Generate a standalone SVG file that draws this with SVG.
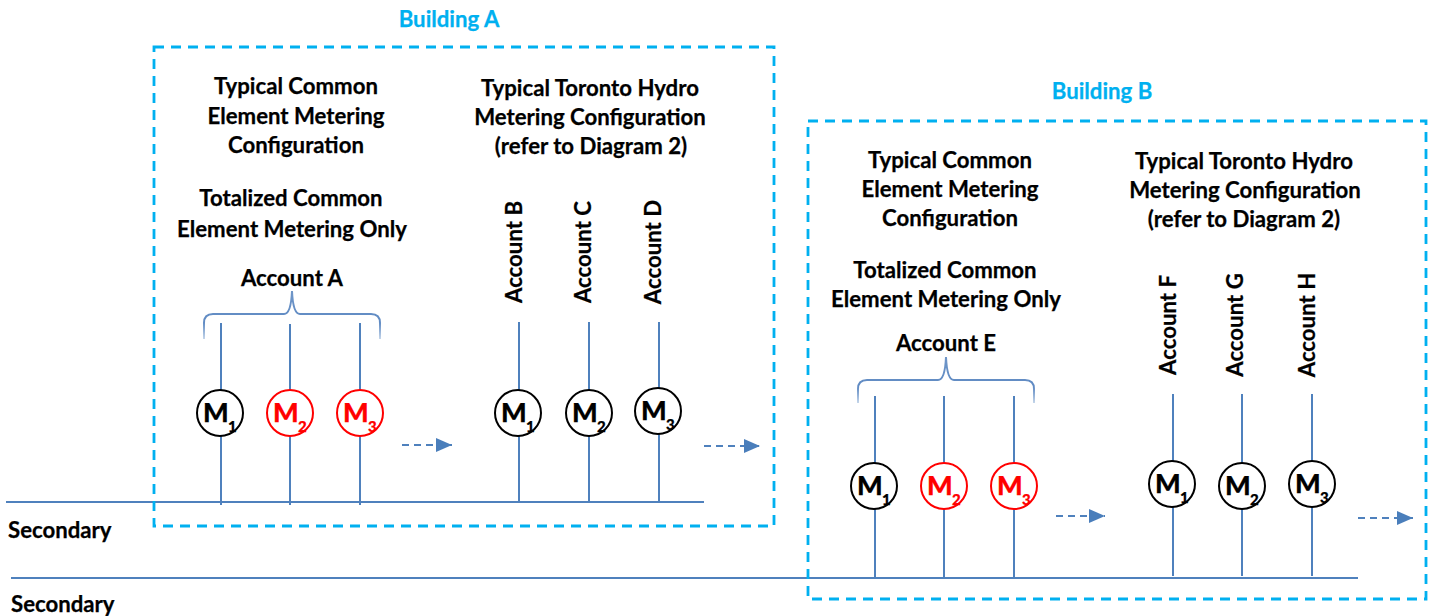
<svg xmlns="http://www.w3.org/2000/svg" width="1435" height="616" viewBox="0 0 1435 616">
<defs>
<style>
text{font-family:"Lato","Open Sans","Liberation Sans",sans-serif;font-weight:700;font-size:22.2px;fill:#000;stroke:#000;stroke-width:.25}
.c{text-anchor:middle}
.bt{fill:#00b0f0;stroke:#00b0f0}
.box{fill:none;stroke:#00b0f0;stroke-width:2.8;stroke-dasharray:10 7}
.ln{fill:none;stroke:#4f81bd;stroke-width:2}
.brace{fill:none;stroke:url(#bf);stroke-width:2}
.dash{fill:none;stroke:#4f81bd;stroke-width:2;stroke-dasharray:7 5}
.m{fill:#fff;stroke:#000;stroke-width:2}
.r .m{stroke:#f00}
.r text{fill:#f00;stroke:#f00}
.mt{font-size:27px;font-weight:900}
.ms{font-size:15px;font-weight:900}
</style>
<linearGradient id="bf" x1="0" y1="0" x2="0" y2="1"><stop offset="0" stop-color="#6f96c8"/><stop offset=".65" stop-color="#5f8ac3"/><stop offset="1" stop-color="#c5d6ea"/></linearGradient>
<marker id="ah" markerUnits="userSpaceOnUse" markerWidth="16" markerHeight="14" refX="16" refY="7" orient="auto"><path d="M0 0L16 7L0 14Z" fill="#4a7ebb"/></marker>
</defs>
<g id="connectors">
<path class="ln" d="M6 502H704M11 578H1358"/>
<path class="ln" d="M221 323V505M290 324V505M360 323V505M519 322V502M589 322V502M659 322V502"/>
<path class="ln" d="M875 396V578M944 396V578M1014 396V578M1173 394V576M1242 394V576M1312 394V576"/>
<path class="dash" marker-end="url(#ah)" d="M402 445H452"/>
<path class="dash" marker-end="url(#ah)" d="M704 446H760"/>
<path class="dash" marker-end="url(#ah)" d="M1056 516H1105"/>
<path class="dash" marker-end="url(#ah)" d="M1358 518H1413"/>
<path class="brace" d="M204 339V323Q204 314 213 314H284Q291 314 292 291Q293 314 300 314H371Q380 314 380 323V339"/>
<path class="brace" d="M858 403V389Q858 380 867 380H938Q945 380 946 357Q947 380 954 380H1025Q1034 380 1034 389V403"/>
</g>
<g id="building-a">
<rect class="box" x="154" y="47" width="620" height="479"/>
<text class="c bt" x="449" y="27">Building A</text>
<text class="c" x="296" y="94">Typical Common</text>
<text class="c" x="296" y="124">Element Metering</text>
<text class="c" x="296" y="153">Configuration</text>
<text class="c" x="291" y="206">Totalized Common</text>
<text class="c" x="292" y="237">Element Metering Only</text>
<text class="c" x="292" y="286">Account A</text>
<text class="c" x="590" y="96">Typical Toronto Hydro</text>
<text class="c" x="590" y="125">Metering Configuration</text>
<text class="c" x="591" y="154">(refer to Diagram 2)</text>
<text class="c" transform="translate(522 252) rotate(-90)">Account B</text>
<text class="c" transform="translate(591 252) rotate(-90)">Account C</text>
<text class="c" transform="translate(661 252) rotate(-90)">Account D</text>
</g>
<g id="building-b">
<rect class="box" x="808" y="121" width="618" height="478"/>
<text class="c bt" x="1102" y="99">Building B</text>
<text class="c" x="950" y="168">Typical Common</text>
<text class="c" x="950" y="197">Element Metering</text>
<text class="c" x="950" y="226">Configuration</text>
<text class="c" x="945" y="278">Totalized Common</text>
<text class="c" x="946" y="307">Element Metering Only</text>
<text class="c" x="946" y="351">Account E</text>
<text class="c" x="1244" y="169">Typical Toronto Hydro</text>
<text class="c" x="1245" y="198">Metering Configuration</text>
<text class="c" x="1244" y="227">(refer to Diagram 2)</text>
<text class="c" transform="translate(1176 325) rotate(-90)">Account F</text>
<text class="c" transform="translate(1243 325) rotate(-90)">Account G</text>
<text class="c" transform="translate(1315 325) rotate(-90)">Account H</text>
</g>
<g id="secondary-labels">
<text x="8" y="538">Secondary</text>
<text x="11" y="612">Secondary</text>
</g>
<g id="a-m1"><circle class="m" cx="220" cy="413" r="23"/><text class="mt" x="203" y="422">M</text><text class="ms" x="228" y="432">1</text></g>
<g id="a-m2" class="r"><circle class="m" cx="290" cy="413" r="23"/><text class="mt" x="273" y="422">M</text><text class="ms" x="298" y="432">2</text></g>
<g id="a-m3" class="r"><circle class="m" cx="360" cy="413" r="23"/><text class="mt" x="343" y="422">M</text><text class="ms" x="368" y="432">3</text></g>
<g id="a-m4"><circle class="m" cx="518" cy="413" r="23"/><text class="mt" x="501" y="422">M</text><text class="ms" x="526" y="432">1</text></g>
<g id="a-m5"><circle class="m" cx="589" cy="413" r="23"/><text class="mt" x="572" y="422">M</text><text class="ms" x="597" y="432">2</text></g>
<g id="a-m6"><circle class="m" cx="658" cy="411" r="23"/><text class="mt" x="641" y="420">M</text><text class="ms" x="666" y="430">3</text></g>
<g id="b-m1"><circle class="m" cx="874" cy="486" r="23"/><text class="mt" x="857" y="495">M</text><text class="ms" x="882" y="505">1</text></g>
<g id="b-m2" class="r"><circle class="m" cx="944" cy="486" r="23"/><text class="mt" x="927" y="495">M</text><text class="ms" x="952" y="505">2</text></g>
<g id="b-m3" class="r"><circle class="m" cx="1014" cy="486" r="23"/><text class="mt" x="997" y="495">M</text><text class="ms" x="1022" y="505">3</text></g>
<g id="b-m4"><circle class="m" cx="1172" cy="484" r="23"/><text class="mt" x="1155" y="493">M</text><text class="ms" x="1180" y="503">1</text></g>
<g id="b-m5"><circle class="m" cx="1242" cy="486" r="23"/><text class="mt" x="1225" y="495">M</text><text class="ms" x="1250" y="505">2</text></g>
<g id="b-m6"><circle class="m" cx="1312" cy="484" r="23"/><text class="mt" x="1295" y="493">M</text><text class="ms" x="1320" y="503">3</text></g>
</svg>
